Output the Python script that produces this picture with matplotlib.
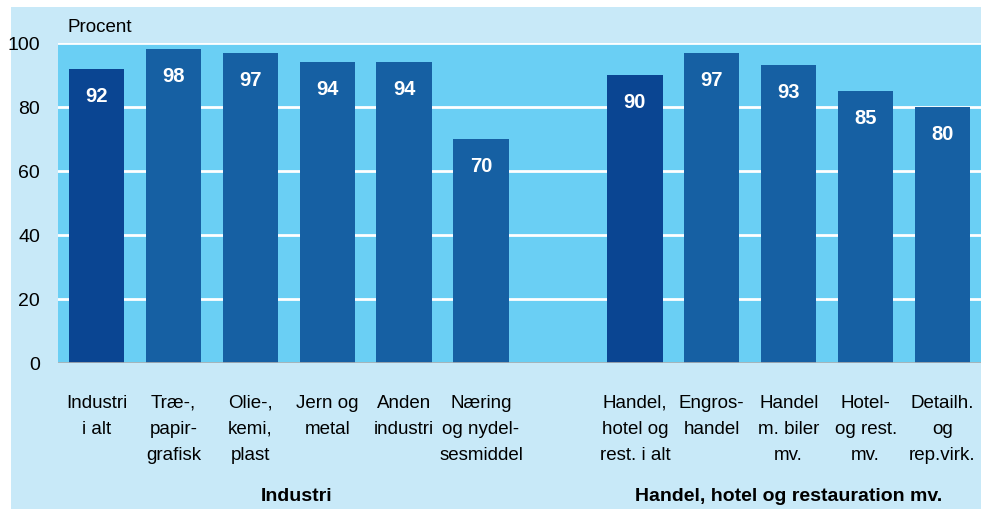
import matplotlib.pyplot as plt
from matplotlib.patches import Rectangle

# Andel af virksomheder (procent), to brancheafsnit
labels = ["Industri\ni alt", "Træ-,\npapir-\ngrafisk", "Olie-,\nkemi,\nplast",
          "Jern og\nmetal", "Anden\nindustri", "Næring\nog nydel-\nsesmiddel",
          "Handel,\nhotel og\nrest. i alt", "Engros-\nhandel", "Handel\nm. biler\nmv.",
          "Hotel-\nog rest.\nmv.", "Detailh.\nog\nrep.virk."]
values = [92, 98, 97, 94, 94, 70, 90, 97, 93, 85, 80]
positions = [0, 1, 2, 3, 4, 5, 7, 8, 9, 10, 11]
totals = [0, 6]  # index of the "i alt" bars
groups = ["Industri", "Handel, hotel og restauration mv."]
group_x = [2.6, 9.0]
yticks = [0, 20, 40, 60, 80, 100]

panel_bg = "#c8e9f8"
plot_bg = "#6acff4"
dark = "#0a4592"
mid = "#1660a3"

plt.rcParams['font.family'] = ['Liberation Sans', 'DejaVu Sans']

fig = plt.figure(figsize=(9.97, 5.10), dpi=100)
fig.patch.set_facecolor("white")
fig.patches.append(Rectangle((11 / 997, 0), 970 / 997, 502 / 510,
                             transform=fig.transFigure, facecolor=panel_bg,
                             edgecolor="none", zorder=-10))

ax = fig.add_axes([58 / 997, 1 - 364 / 510, 923 / 997, 320 / 510])
ax.set_facecolor(plot_bg)

colors = [dark if i in totals else mid for i in range(len(values))]
ax.bar(positions, values, width=0.72, color=colors, zorder=3)

for x, v in zip(positions, values):
    ax.text(x, v - 8.3, str(v), ha="center", va="center", color="white",
            fontsize=14.5, fontweight="bold", zorder=4)

ax.set_xlim(-0.5, 11.5)
ax.set_ylim(0, 100)
ax.set_yticks(yticks)
ax.set_yticklabels([str(t) for t in yticks], fontsize=14)
for t in yticks[1:]:
    ax.axhline(t, color="white", lw=2, zorder=2)
ax.axhline(0, color="#b0b0b0", lw=1.2, zorder=4)

ax.set_xticks(positions)
ax.set_xticklabels(labels, fontsize=13.5, linespacing=1.7, va="top")
ax.tick_params(axis="both", length=0)
ax.tick_params(axis="x", pad=22)
ax.tick_params(axis="y", pad=13)
for s in ax.spines.values():
    s.set_visible(False)

fig.text(67 / 997, 1 - 28 / 510, "Procent", fontsize=13.5, va="center")

for gx, g in zip(group_x, groups):
    ax.text(gx, -41.5, g, ha="center", va="center", fontsize=14,
            fontweight="bold", transform=ax.transData, clip_on=False)

fig.savefig("out.png", dpi=100, facecolor=fig.get_facecolor())
